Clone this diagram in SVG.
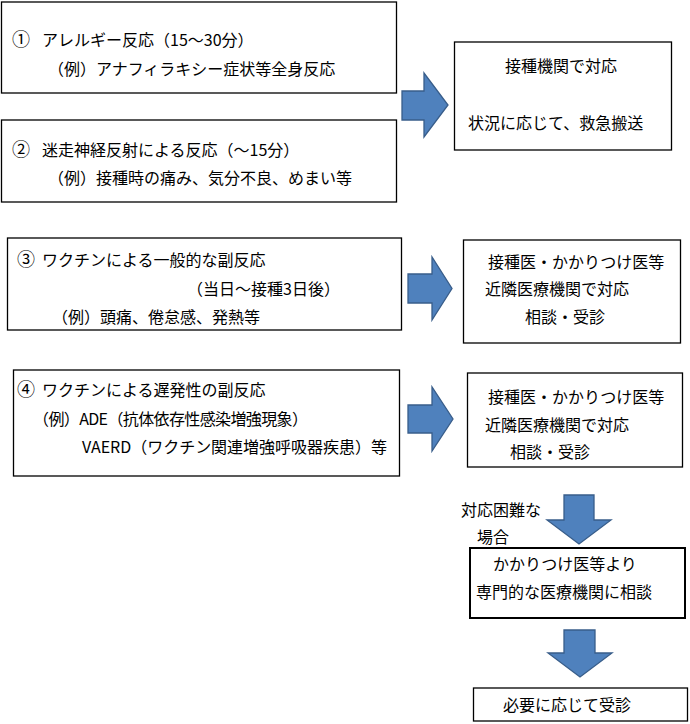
<svg xmlns="http://www.w3.org/2000/svg" width="690" height="724" viewBox="0 0 690 724">
<style>
.box{fill:#fff;stroke:#000;stroke-width:1.3}
.thick{stroke-width:2}
.t{font-family:"Noto Sans CJK JP","Noto Sans CJK SC",sans-serif;font-size:16px;fill:#000}
.num{font-size:18px}
.arrow{fill:#4F81BD;stroke:#385D8A;stroke-width:1.3;stroke-linejoin:miter}
</style>
<rect x="0" y="0" width="690" height="724" fill="#fff"/>
<g id="node1">
<rect class="box" x="1.5" y="2" width="395" height="91"/>
<text class="t" y="46"><tspan class="num" x="12">①</tspan><tspan x="42">アレルギー反応（15～30分）</tspan></text>
<text class="t" x="48" y="75">（例）アナフィラキシー症状等全身反応</text>
</g>
<g id="node2">
<rect class="box" x="1.5" y="120" width="395" height="82"/>
<text class="t" y="156"><tspan class="num" x="12">②</tspan><tspan x="42">迷走神経反射による反応（～15分）</tspan></text>
<text class="t" x="48" y="184">（例）接種時の痛み、気分不良、めまい等</text>
</g>
<g id="node_r1">
<rect class="box" x="454.5" y="42" width="217" height="108"/>
<text class="t" x="505" y="72">接種機関で対応</text>
<text class="t" x="468" y="129">状況に応じて、救急搬送</text>
</g>
<g id="node3">
<rect class="box" x="7.5" y="238" width="394" height="92"/>
<text class="t" y="266"><tspan class="num" x="17">③</tspan><tspan x="42">ワクチンによる一般的な副反応</tspan></text>
<text class="t" x="187" y="295">（当日～接種3日後）</text>
<text class="t" x="52" y="323">（例）頭痛、倦怠感、発熱等</text>
</g>
<g id="node_r3">
<rect class="box" x="463.5" y="240" width="217" height="103"/>
<text class="t" x="488" y="268">接種医・かかりつけ医等</text>
<text class="t" x="485" y="295">近隣医療機関で対応</text>
<text class="t" x="525" y="323">相談・受診</text>
</g>
<g id="node4">
<rect class="box" x="13.5" y="370" width="386" height="106"/>
<text class="t" y="396"><tspan class="num" x="17">④</tspan><tspan x="42">ワクチンによる遅発性の副反応</tspan></text>
<text class="t" x="33" y="425" textLength="275" lengthAdjust="spacing">（例）ADE（抗体依存性感染増強現象）</text>
<text class="t" x="82" y="453" textLength="305" lengthAdjust="spacing">VAERD（ワクチン関連増強呼吸器疾患）等</text>
</g>
<g id="node_r4">
<rect class="box" x="467.5" y="373" width="215" height="94"/>
<text class="t" x="488" y="403">接種医・かかりつけ医等</text>
<text class="t" x="485" y="431">近隣医療機関で対応</text>
<text class="t" x="510" y="458">相談・受診</text>
</g>
<g id="label_difficult">
<text class="t" x="461" y="516">対応困難な</text>
<text class="t" x="477" y="543">場合</text>
</g>
<g id="node5">
<rect class="box thick" x="470" y="548" width="215" height="70"/>
<text class="t" x="493" y="570">かかりつけ医等より</text>
<text class="t" x="476" y="598">専門的な医療機関に相談</text>
</g>
<g id="node6">
<rect class="box" x="473.5" y="688" width="214" height="33"/>
<text class="t" x="503" y="711">必要に応じて受診</text>
</g>
<g id="connectors">
<polygon class="arrow" points="402,91 424,91 424,73 448,105 424,137 424,120 402,120"/>
<polygon class="arrow" points="408,274 432,274 432,257 452,288.5 432,320 432,303 408,303"/>
<polygon class="arrow" points="408,405 432,405 432,387 453,419 432,451 432,433 408,433"/>
<polygon class="arrow" points="564,495 594,495 594,520 611,520 579,544 547,520 564,520"/>
<polygon class="arrow" points="564,630 595,630 595,653 612,653 580,677 548,653 564,653"/>
</g>
</svg>
